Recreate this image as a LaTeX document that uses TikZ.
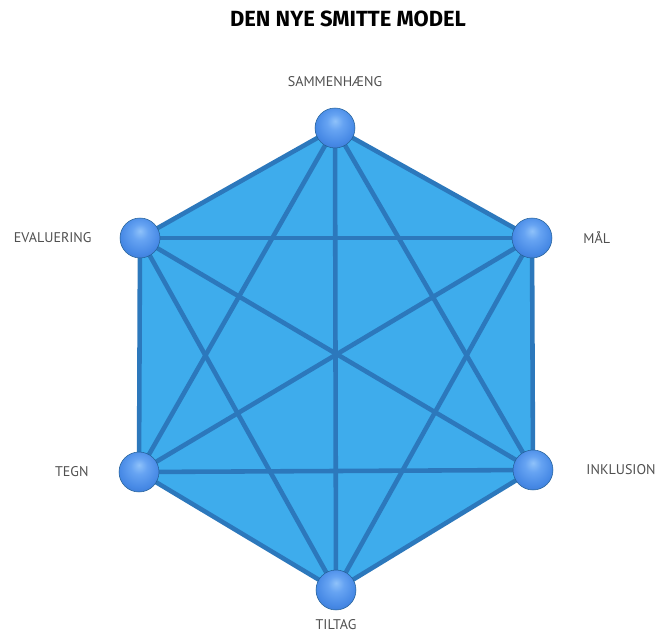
\documentclass[tikz,border=0pt]{standalone}
\usepackage{fontspec}
\setmainfont{PT Sans}
\newfontfamily\titlefont{Fira Sans}
\usetikzlibrary{backgrounds}
\definecolor{hexfill}{RGB}{62,172,236}
\definecolor{spokeblue}{RGB}{44,120,188}
\definecolor{lblgray}{RGB}{80,80,80}
\pgfdeclareradialshading{sphereshade}{\pgfpoint{0bp}{9bp}}{%
  rgb(0bp)=(0.56,0.76,0.98);
  rgb(10bp)=(0.40,0.64,0.95);
  rgb(24bp)=(0.28,0.54,0.90);
  rgb(34bp)=(0.22,0.46,0.82);
  rgb(50bp)=(0.22,0.46,0.82)}
\tikzset{
  vertex/.style={
    shape = circle,
    inner sep = 0pt,
    minimum size = 0.8cm,
    shading = sphereshade,
    draw = spokeblue!80!black,
    line width = 0.3pt
  },
  spoke/.style={
    draw = spokeblue,
    line width = 2.6pt
  },
  lbl/.style={
    font = \fontsize{8}{9}\selectfont,
    text = lblgray
  }
}

\begin{document}
\begin{tikzpicture}[x=0.02cm,y=-0.02cm]
    \useasboundingbox (0,0) rectangle (655,634);
    \node[font=\titlefont\bfseries\fontsize{12.5}{14}\selectfont] (title) at (348,19) {DEN NYE SMITTE MODEL};
    % corners of the hexagon
    \node[vertex,label={[lbl,label distance=0.30cm]above:SAMMENHÆNG}] (v1) at (335,128) {};
    \node[vertex,label={[lbl,label distance=0.50cm]right:MÅL}] (v2) at (532,238) {};
    \node[vertex,label={[lbl,label distance=0.54cm]right:INKLUSION}] (v3) at (533,470) {};
    \node[vertex,label={[lbl,label distance=0.06cm]below:TILTAG}] (v4) at (336,590) {};
    \node[vertex,label={[lbl,label distance=0.48cm]left:TEGN}] (v5) at (139,472) {};
    \node[vertex,label={[lbl,label distance=0.44cm]left:EVALUERING}] (v6) at (140,238) {};
    \begin{scope}[on background layer]
        \fill[hexfill] (v1.center) -- (v2.center) -- (v3.center) -- (v4.center) -- (v5.center) -- (v6.center) -- cycle;
        \foreach \a in {1,...,5}{
            \pgfmathtruncatemacro{\s}{\a+1}
            \foreach \b in {\s,...,6}
                \draw[spoke] (v\a.center) -- (v\b.center);
        }
    \end{scope}
\end{tikzpicture}
\end{document}
